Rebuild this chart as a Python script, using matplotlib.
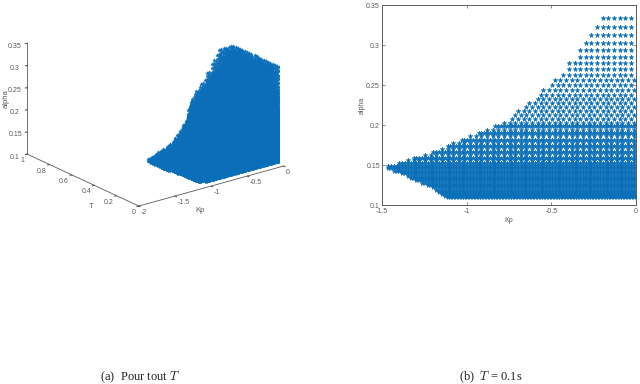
import matplotlib
matplotlib.use('Agg')
import matplotlib.pyplot as plt

plt.rcParams['font.family'] = ['Liberation Sans', 'DejaVu Sans']
plt.rcParams['mathtext.fontset'] = 'cm'

blue = '#0a6fb8'
gray = '#5a5a5a'

# rows of the T = 0.1 slice: alpha level and leftmost Kp of that row
alpha_rows = [.3338, .3225, .3126, .3030, .2943, .2855, .2776, .2701, .2631, .2564,
              .2498, .2439, .2381, .2323, .2269, .2219, .2169, .2119, .2073, .2027,
              .1982, .1940, .1899, .1857, .1815, .1774, .1736, .1699, .1661, .1624,
              .1591, .1557, .1524, .1491, .1458, .1424, .1395, .1366, .1337, .1308,
              .1279, .1250, .1220, .1190, .1166, .1140, .1116, .1095]
kp_left = [-.205, -.23, -.29, -.315, -.335, -.355, -.40, -.42, -.455, -.48,
           -.515, -.55, -.585, -.605, -.635, -.675, -.70, -.73, -.76, -.795,
           -.83, -.885, -.94, -.995, -1.03, -1.08, -1.12, -1.16, -1.20, -1.26,
           -1.32, -1.37, -1.41, -1.465, -1.465, -1.43, -1.395, -1.36, -1.33, -1.30,
           -1.27, -1.24, -1.21, -1.185, -1.17, -1.15, -1.13, -1.125]
kp_grid = [-1.463, -1.43, -1.397, -1.363, -1.33, -1.297, -1.263, -1.23, -1.197,
           -1.163, -1.13, -1.097, -1.063, -1.03, -.997, -.963, -.93, -.897, -.863,
           -.83, -.797, -.763, -.73, -.697, -.663, -.63, -.597, -.563, -.53,
           -.497, -.463, -.43, -.397, -.363, -.33, -.297, -.263, -.23, -.197,
           -.163, -.13, -.097, -.063, -.03]
kp_grid_between = [-1.447, -1.413, -1.38, -1.347, -1.313, -1.28, -1.247, -1.213, -1.18,
                   -1.147, -1.113, -1.08, -1.047, -1.013, -.98, -.947, -.913, -.88, -.847,
                   -.813, -.78, -.747, -.713, -.68, -.647, -.613, -.58, -.547, -.513,
                   -.48, -.447, -.413, -.38, -.347, -.313, -.28, -.247, -.213, -.18,
                   -.147, -.113, -.08, -.047, -.013]

# other T slices: leftmost Kp allowed in each one
t_values = [.02, .04, .06, .08, .10, .12, .14, .16, .18, .20, .22, .24, .27,
            .29, .31, .33, .35, .37, .39, .41, .43]
kp_floor = [-1.05, -1.12, -1.25, -1.4, -1.5, -1.5, -1.5, -1.5, -1.5, -1.5, -1.5, -1.5, -1.5,
            -1.05, -.95, -.88, -.82, -.76, -.72, -.68, -.62]
alpha_cap = 0.326

kp_ticks_a = [-2, -1.5, -1, -0.5, 0]
t_ticks = [0, 0.2, 0.4, 0.6, 0.8, 1]
alpha_ticks = [0.1, 0.15, 0.2, 0.25, 0.3, 0.35]
kp_ticks_b = [-1.5, -1, -0.5, 0]

slice_kp = []
slice_alpha = []
for i, (a, left) in enumerate(zip(alpha_rows, kp_left)):
    # the lattice gets tighter towards the bottom of the region
    if a < 0.15 or (a < 0.2 and i % 2 == 0):
        row_grid = kp_grid + kp_grid_between
    elif a < 0.26 and i % 2:
        row_grid = kp_grid_between
    else:
        row_grid = kp_grid
    for k in row_grid:
        if k >= left:
            slice_kp.append(k)
            slice_alpha.append(a)

all_kp, all_t, all_alpha = [], [], []
for t, floor in zip(t_values, kp_floor):
    for a, k in zip(slice_alpha, slice_kp):
        if k >= floor and a <= alpha_cap:
            all_kp.append(k)
            all_t.append(t)
            all_alpha.append(a)

fig = plt.figure(figsize=(6.4, 3.84), dpi=100)

# (a) all T
ax1 = fig.add_axes([-8 / 640, 0.36 + 11 / 384, 0.5, 0.66], projection='3d', proj_type='ortho')
ax1.plot(all_kp, all_t, all_alpha, ls='none', marker='*', ms=2.6, color=blue, mew=0.3)
ax1.view_init(elev=21, azim=-127.6)
ax1.set_box_aspect((1, 1, 0.65), zoom=1.09)
ax1.set_xlim(-2, 0)
ax1.set_ylim(0, 1)
ax1.set_zlim(0.1, 0.35)
ax1.set_xticks(kp_ticks_a)
ax1.set_xticklabels(['-2', '-1.5', '-1', '-0.5', '0'], ha='left')
ax1.set_yticks(t_ticks)
ax1.set_yticklabels(['0', '0.2', '0.4', '0.6', '0.8', '1'], ha='right')
ax1.set_zticks(alpha_ticks)
ax1.set_zticklabels(['0.1', '0.15', '0.2', '0.25', '0.3', '0.35'])
ax1.grid(False)
for axis in (ax1.xaxis, ax1.yaxis, ax1.zaxis):
    axis.set_pane_color((1, 1, 1, 0))
    axis.line.set_color(gray)
    axis.line.set_linewidth(0.6)
    axis.set_tick_params(labelsize=5, colors=gray, pad=-6, width=0.5)
    axis._axinfo['tick']['inward_factor'] = 0.15
    axis._axinfo['tick']['outward_factor'] = 0.0
ax1.zaxis.set_tick_params(pad=-3.5)
fig.text(200 / 640, 1 - 210 / 384, 'Kp', fontsize=5.5, color=gray, ha='center', va='center')
fig.text(91 / 640, 1 - 207 / 384, 'T', fontsize=5.5, color=gray, ha='center', va='center')
fig.text(6 / 640, 1 - 99 / 384, 'alpha', fontsize=5.5, color=gray, ha='center', va='center',
         rotation=90)

# (b) T = 0.1 s
ax2 = fig.add_axes([382 / 640, 1 - 205 / 384, 254 / 640, 200 / 384])
ax2.plot(slice_kp, slice_alpha, ls='none', marker='*', ms=3.5, color=blue, mew=0.4)
ax2.set_xlim(-1.5, 0)
ax2.set_ylim(0.1, 0.35)
ax2.set_xticks(kp_ticks_b)
ax2.set_xticklabels(['-1.5', '-1', '-0.5', '0'])
ax2.set_yticks(alpha_ticks)
ax2.set_yticklabels(['0.1', '0.15', '0.2', '0.25', '0.3', '0.35'])
ax2.set_xlabel('Kp', fontsize=5, color=gray, labelpad=1)
ax2.set_ylabel('alpha', fontsize=5, color=gray, labelpad=0)
ax2.tick_params(direction='in', top=True, right=True, length=2, width=0.5,
                labelsize=5, colors=gray, pad=1.5)
ax2.tick_params(axis='x', pad=2.5)
for s in ax2.spines.values():
    s.set_color(gray)
    s.set_linewidth(0.7)

fig.text(100 / 640, 1 - 377 / 384, r'(a)  Pour tout $T$', family='Liberation Serif',
         fontsize=9, color='#222222', va='center')
fig.text(459 / 640, 1 - 377 / 384, r'(b)  $T$ = 0.1s', family='Liberation Serif',
         fontsize=9, color='#222222', va='center')

fig.savefig('out.png', dpi=100)
